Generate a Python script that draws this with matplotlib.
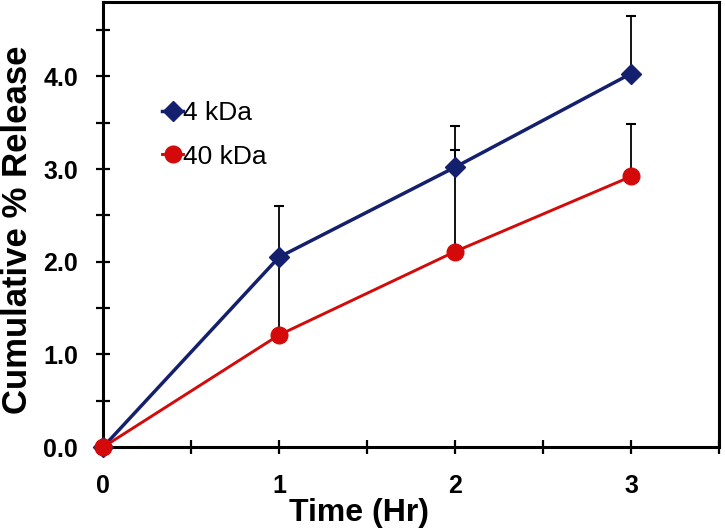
import matplotlib.pyplot as plt
import matplotlib
import numpy as np

matplotlib.rcParams['font.family'] = ['Liberation Sans', 'DejaVu Sans']

# data
time_hr = [0, 1, 2, 3]
release_4kda = [0.0, 2.05, 3.02, 4.03]
err_4kda = [0.0, 0.55, 0.44, 0.62]
release_40kda = [0.0, 1.21, 2.11, 2.92]
err_40kda = [0.0, 0.85, 1.09, 0.57]

x_ticks = [0, 0.5, 1, 1.5, 2, 2.5, 3, 3.5]
x_labels = ['0', '', '1', '', '2', '', '3', '']
y_ticks = [0, 0.5, 1, 1.5, 2, 2.5, 3, 3.5, 4, 4.5]
y_labels = ['0.0', '', '1.0', '', '2.0', '', '3.0', '', '4.0', '']

blue = '#14206e'
red = '#d40a0a'

fig = plt.figure(figsize=(7.25, 5.28), dpi=100)
ax = fig.add_axes([0.142, 0.153, 0.850, 0.843])

x = np.asarray(time_hr)
# error bars, upward only
ax.errorbar(x, release_4kda, yerr=[np.zeros(len(x)), err_4kda], fmt='none',
            ecolor='black', elinewidth=1.3, capsize=3.5, capthick=1.5, zorder=2)
ax.errorbar(x, release_40kda, yerr=[np.zeros(len(x)), err_40kda], fmt='none',
            ecolor='black', elinewidth=1.3, capsize=3.5, capthick=1.5, zorder=2)

ax.plot(x, release_4kda, color=blue, linewidth=2.5, marker='D', markersize=10,
        label='4 kDa', zorder=3, clip_on=False)
ax.plot(x, release_40kda, color=red, linewidth=2.1, marker='o', markersize=12,
        label='40 kDa', zorder=4, clip_on=False)

ax.set_xlim(0, 3.5)
ax.set_ylim(0, 4.8)
ax.set_xticks(x_ticks)
ax.set_xticklabels(x_labels)
ax.set_yticks(y_ticks)
ax.set_yticklabels(y_labels)
ax.tick_params(direction='inout', length=10, width=1.6, labelsize=18)
ax.tick_params(axis='y', pad=13)
ax.tick_params(axis='x', pad=14)
for lbl in ax.get_xticklabels() + ax.get_yticklabels():
    lbl.set_fontweight('bold')

for sp in ax.spines.values():
    sp.set_linewidth(2.2)

ax.set_xlabel('Time (Hr)', fontsize=23, fontweight='bold')
ax.xaxis.set_label_coords(0.415, -0.113)
ax.set_ylabel('Cumulative % Release', fontsize=25, fontweight='bold')
ax.yaxis.set_label_coords(-0.112, 0.488)

ax.legend(loc='upper left', bbox_to_anchor=(0.096, 0.778), frameon=False,
          fontsize=19, handlelength=0.8, handletextpad=0.0, labelspacing=0.75,
          borderaxespad=0, borderpad=0)

plt.savefig('out.png', dpi=100)
